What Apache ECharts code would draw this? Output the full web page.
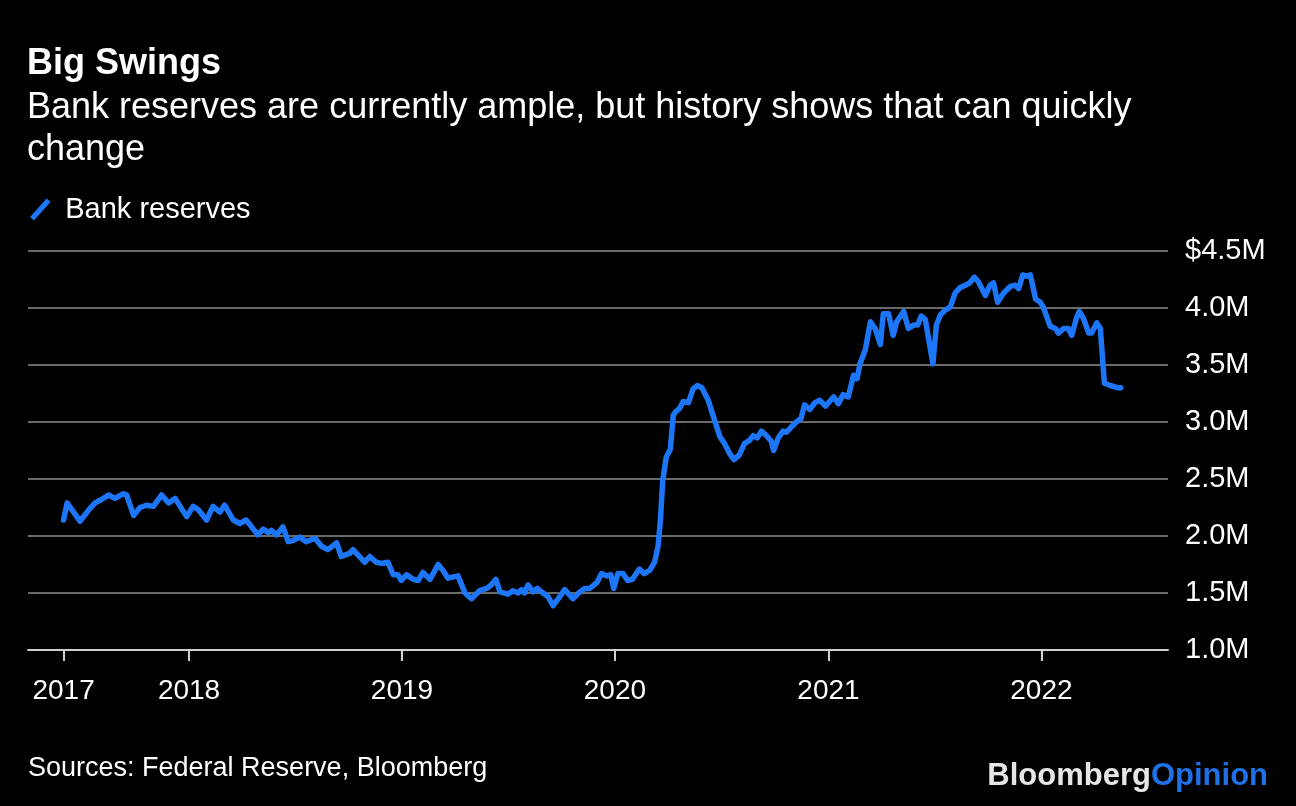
<!DOCTYPE html>
<html>
<head>
<meta charset="utf-8">
<script src="https://cdn.jsdelivr.net/npm/echarts@6/dist/echarts.min.js"></script>
<style>
html,body{margin:0;padding:0;background:#000;}
#chart{width:1296px;height:806px;}
</style>
</head>
<body>
<div id="chart"></div>
<script>
// ---- data (weekly Fed bank reserves, $ trillions shown as "M") ----
const dates = [
'2017-05-31','2017-06-06','2017-06-28','2017-07-15','2017-07-24','2017-08-04','2017-08-16','2017-08-27','2017-09-10','2017-09-16',
'2017-09-28','2017-10-09','2017-10-20','2017-11-01','2017-11-15','2017-11-27','2017-12-08','2017-12-28','2018-01-08','2018-01-17',
'2018-01-31','2018-02-11','2018-02-23','2018-03-03','2018-03-18','2018-03-29','2018-04-09','2018-04-29','2018-05-08','2018-05-17',
'2018-05-22','2018-05-31','2018-06-11','2018-06-20','2018-06-28','2018-07-10','2018-07-21','2018-08-05','2018-08-16','2018-08-27',
'2018-09-11','2018-09-19','2018-10-04','2018-10-09','2018-10-29','2018-11-07','2018-11-18','2018-11-27','2018-12-08','2018-12-17',
'2018-12-25','2018-12-31','2019-01-09','2019-01-20','2019-01-29','2019-02-06','2019-02-18','2019-03-04','2019-03-12','2019-03-21',
'2019-04-07','2019-04-19','2019-04-30','2019-05-14','2019-05-26','2019-06-03','2019-06-11','2019-06-18','2019-07-02','2019-07-10',
'2019-07-19','2019-07-25','2019-07-30','2019-08-05','2019-08-14','2019-08-21','2019-08-28','2019-09-08','2019-09-17','2019-09-26',
'2019-10-07','2019-10-21','2019-11-02','2019-11-10','2019-11-19','2019-12-01','2019-12-09','2019-12-18','2019-12-25','2019-12-30',
'2020-01-06','2020-01-15','2020-01-23','2020-01-31','2020-02-12','2020-02-20','2020-03-01','2020-03-09','2020-03-15','2020-03-19',
'2020-03-23','2020-03-29','2020-04-05','2020-04-10','2020-04-14','2020-04-21','2020-04-27','2020-05-06','2020-05-14','2020-05-21',
'2020-05-29','2020-06-09','2020-06-17','2020-06-29','2020-07-07','2020-07-16','2020-07-23','2020-08-01','2020-08-10','2020-08-19',
'2020-08-25','2020-09-01','2020-09-08','2020-09-17','2020-09-25','2020-09-29','2020-10-07','2020-10-15','2020-10-21','2020-10-30',
'2020-11-07','2020-11-15','2020-11-21','2020-11-30','2020-12-09','2020-12-17','2020-12-27','2021-01-10','2021-01-18','2021-01-26',
'2021-02-04','2021-02-13','2021-02-19','2021-02-24','2021-03-05','2021-03-14','2021-03-22','2021-03-31','2021-04-05','2021-04-14',
'2021-04-22','2021-04-28','2021-05-10','2021-05-18','2021-05-27','2021-06-03','2021-06-09','2021-06-16','2021-06-29','2021-07-05',
'2021-07-12','2021-07-20','2021-07-29','2021-08-06','2021-08-15','2021-08-24','2021-08-31','2021-09-08','2021-09-15','2021-09-27',
'2021-10-05','2021-10-11','2021-10-18','2021-10-28','2021-11-09','2021-11-17','2021-11-23','2021-11-30','2021-12-07','2021-12-13',
'2021-12-22','2021-12-30','2022-01-04','2022-01-16','2022-01-25','2022-01-30','2022-02-08','2022-02-16','2022-02-22','2022-03-02',
'2022-03-07','2022-03-14','2022-03-23','2022-03-28','2022-04-06','2022-04-12','2022-04-19','2022-04-29','2022-05-13','2022-05-17'
];
const reserves = [
2.14,2.29,2.13,2.24,2.29,2.32,2.36,2.33,2.37,2.36,
2.18,2.25,2.27,2.26,2.36,2.29,2.33,2.17,2.26,2.23,
2.14,2.26,2.21,2.27,2.14,2.11,2.14,2.01,2.06,2.03,
2.05,2.01,2.08,1.95,1.96,1.99,1.95,1.98,1.91,1.88,
1.94,1.82,1.85,1.88,1.77,1.82,1.77,1.76,1.77,1.66,
1.66,1.61,1.66,1.62,1.61,1.68,1.62,1.75,1.70,1.63,
1.65,1.50,1.45,1.52,1.54,1.57,1.62,1.51,1.49,1.52,
1.50,1.53,1.50,1.57,1.51,1.54,1.51,1.47,1.39,1.45,
1.53,1.45,1.51,1.54,1.54,1.59,1.67,1.65,1.66,1.54,
1.67,1.67,1.61,1.62,1.71,1.67,1.70,1.77,1.91,2.14,
2.49,2.69,2.76,3.06,3.09,3.12,3.18,3.17,3.29,3.32,
3.30,3.19,3.06,2.87,2.81,2.72,2.67,2.71,2.81,2.84,
2.88,2.86,2.92,2.88,2.83,2.75,2.86,2.92,2.91,2.96,
3.00,3.03,3.15,3.11,3.17,3.19,3.14,3.22,3.16,3.24,
3.22,3.41,3.38,3.51,3.63,3.88,3.82,3.68,3.95,3.95,
3.76,3.88,3.97,3.82,3.85,3.85,3.93,3.90,3.51,3.85,
3.94,3.98,4.01,4.13,4.18,4.20,4.22,4.27,4.23,4.11,
4.20,4.22,4.05,4.13,4.19,4.20,4.17,4.29,4.28,4.29,
4.08,4.05,4.01,3.84,3.82,3.78,3.82,3.82,3.76,3.91,
3.97,3.91,3.78,3.78,3.87,3.82,3.34,3.32,3.30,3.30
];
const seriesName = 'Bank reserves';
const xTickDates = ['2017-05-31','2018-01-01','2019-01-01','2020-01-01','2021-01-01','2022-01-01'];
const xTickLabels = ['2017','2018','2019','2020','2021','2022'];
const yTicks = [1.0,1.5,2.0,2.5,3.0,3.5,4.0,4.5];
const yTickLabels = ['1.0M','1.5M','2.0M','2.5M','3.0M','3.5M','4.0M','$4.5M'];
const xRange = ['2017-03-31','2022-08-06'];

const titleText = 'Big Swings';
const subtitleText = 'Bank reserves are currently ample, but history shows that can quickly\nchange';
const sourceText = 'Sources: Federal Reserve, Bloomberg';

// ---- helpers ----
function ts(s){ const p = s.split('-').map(Number); return Date.UTC(p[0], p[1]-1, p[2]); }
const xTickValues = xTickDates.map(ts);
const lineData = dates.map((d,i)=>[ts(d), reserves[i]]);

const FONT = '"Liberation Sans", Arial, Helvetica, sans-serif';
const BLUE = '#1d76f8';

const chart = echarts.init(document.getElementById('chart'), null, {renderer:'canvas'});
chart.setOption({
  backgroundColor:'#000',
  animation:false,
  textStyle:{fontFamily:FONT},
  title:[
    {
      text:titleText,
      subtext:subtitleText,
      left:27, top:43, padding:0, itemGap:2,
      textStyle:{color:'#fff', fontSize:36, fontWeight:'bold', fontFamily:FONT, lineHeight:42},
      subtextStyle:{color:'#fff', fontSize:36, fontFamily:FONT, lineHeight:42}
    },
    {
      text:sourceText,
      left:28, top:753, padding:0,
      textStyle:{color:'#fff', fontSize:27, fontWeight:'normal', fontFamily:FONT, lineHeight:32}
    },
    {
      text:'{b|Bloomberg}{o|Opinion}',
      right:28, top:759, padding:0,
      textStyle:{
        fontSize:31, fontWeight:'bold', fontFamily:FONT, lineHeight:34,
        rich:{
          b:{color:'#e6e6e6', fontSize:31, fontWeight:'bold', fontFamily:FONT},
          o:{color:'#1f6fe5', fontSize:31, fontWeight:'bold', fontFamily:FONT}
        }
      }
    }
  ],
  legend:{
    data:[seriesName],
    left:30, top:195, padding:0,
    icon:'path://M0,19 L17,0 L21,3.5 L4,22.5 Z',
    itemWidth:22, itemHeight:22,
    textStyle:{color:'#fff', fontSize:29, fontFamily:FONT, padding:[0,0,0,9]},
    selectedMode:false
  },
  grid:{left:28, right:128, top:251, bottom:156, containLabel:false},
  xAxis:{
    type:'value',
    min:ts(xRange[0]), max:ts(xRange[1]),
    axisLine:{show:true, lineStyle:{color:'#cfcfcf', width:2}},
    axisTick:{show:true, customValues:xTickValues, length:11, lineStyle:{color:'#cfcfcf', width:2}},
    axisLabel:{
      customValues:xTickValues,
      color:'#fff', fontSize:28, fontFamily:FONT, margin:27,
      formatter:function(v){ const i = xTickValues.indexOf(v); return i>=0 ? xTickLabels[i] : ''; }
    },
    splitLine:{show:false}
  },
  yAxis:{
    type:'value', position:'right',
    min:yTicks[0], max:yTicks[yTicks.length-1], interval:0.5,
    axisLine:{show:false}, axisTick:{show:false},
    axisLabel:{
      color:'#fff', fontSize:29, fontFamily:FONT, margin:17, align:'left',
      formatter:function(v){ const i = yTicks.findIndex(t=>Math.abs(t-v)<1e-9); return i>=0 ? yTickLabels[i] : ''; }
    },
    splitLine:{show:true, lineStyle:{color:'#6a6a6a', width:2}}
  },
  series:[{
    name:seriesName,
    type:'line',
    data:lineData,
    showSymbol:false,
    symbol:'none',
    color:BLUE,
    lineStyle:{color:BLUE, width:5.5, cap:'round', join:'round'},
    emphasis:{disabled:true}
  }]
});
</script>
</body>
</html>
